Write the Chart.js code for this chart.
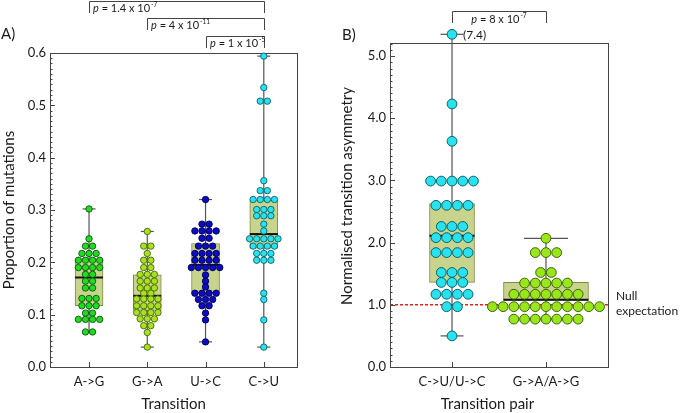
<!DOCTYPE html>
<html>
<head>
<meta charset="utf-8">
<script src="https://cdn.jsdelivr.net/npm/chart.js@4.4.1/dist/chart.umd.min.js"></script>
<style>
  html, body { margin: 0; padding: 0; background: #fff; }
  #wrap { position: relative; width: 680px; height: 413px; }
  #chartA { position: absolute; left: 0; top: 0; }
  #chartB { position: absolute; left: 330px; top: 0; }
</style>
</head>
<body>
<div id="wrap">
  <canvas id="chartA" width="330" height="413"></canvas>
  <canvas id="chartB" width="350" height="413"></canvas>
</div>
<script>
// ---- Panel A data: proportion of mutations per transition ----
const transitions = ['A->G', 'G->A', 'U->C', 'C->U'];
const agValues = [0.302, 0.245, 0.231, 0.231, 0.217, 0.217, 0.217, 0.204, 0.204, 0.204, 0.204,
  0.19, 0.19, 0.19, 0.19, 0.177, 0.177, 0.164, 0.164, 0.151, 0.151, 0.131, 0.131, 0.131,
  0.117, 0.117, 0.117, 0.103, 0.103, 0.091, 0.091, 0.091, 0.091, 0.067, 0.067];
const gaValues = [0.259, 0.231, 0.231, 0.217, 0.204, 0.204, 0.19, 0.19, 0.177, 0.177, 0.177,
  0.164, 0.164, 0.164, 0.151, 0.151, 0.151, 0.141, 0.141, 0.13, 0.13, 0.13, 0.13,
  0.117, 0.117, 0.117, 0.117, 0.104, 0.104, 0.104, 0.104, 0.092, 0.092, 0.092, 0.079, 0.079, 0.066, 0.038];
const ucValues = [0.32, 0.273, 0.273, 0.26, 0.26, 0.26, 0.26, 0.246, 0.246, 0.231, 0.231, 0.231,
  0.217, 0.217, 0.217, 0.217, 0.204, 0.204, 0.204, 0.204, 0.19, 0.19, 0.19, 0.19, 0.19,
  0.176, 0.164, 0.153, 0.141, 0.141, 0.141, 0.141, 0.129, 0.129, 0.129, 0.117, 0.117, 0.103, 0.09, 0.048];
const cuValues = [0.594, 0.534, 0.508, 0.508, 0.356, 0.337, 0.337, 0.32, 0.32, 0.32, 0.32,
  0.301, 0.301, 0.301, 0.289, 0.289, 0.289, 0.273, 0.26, 0.245, 0.245, 0.245, 0.245, 0.245,
  0.231, 0.231, 0.231, 0.231, 0.217, 0.217, 0.217, 0.204, 0.204, 0.204, 0.141, 0.129, 0.09, 0.038];
const aMin = [0.067, 0.038, 0.048, 0.038];
const aQ1 = [0.117, 0.108, 0.142, 0.227];
const aMedian = [0.171, 0.136, 0.195, 0.254];
const aQ3 = [0.206, 0.176, 0.236, 0.319];
const aMax = [0.302, 0.259, 0.32, 0.594];
const aTicks = [0, 0.1, 0.2, 0.3, 0.4, 0.5, 0.6];
const aPValues = [
  { from: 0, to: 3, mant: '1.4', exp: '-7' },
  { from: 1, to: 3, mant: '4', exp: '-11' },
  { from: 2, to: 3, mant: '1', exp: '-5' }
];

// ---- Panel B data: normalised transition asymmetry ----
const pairs = ['C->U/U->C', 'G->A/A->G'];
const cuucValues = [7.4, 4.23, 3.63, 2.99, 2.99, 2.99, 2.99, 2.99, 2.6, 2.6, 2.6, 2.6,
  2.26, 2.26, 2.26, 2.08, 2.08, 2.08, 2.08, 1.84, 1.84, 1.84, 1.84, 1.52, 1.52, 1.52,
  1.36, 1.36, 1.36, 1.17, 1.17, 1.17, 1.17, 0.97, 0.97, 0.5];
const gaagValues = [2.07, 1.84, 1.84, 1.84, 1.52, 1.52, 1.35, 1.35, 1.35, 1.35, 1.35,
  1.17, 1.17, 1.17, 1.17, 1.17, 1.17, 1.17,
  0.97, 0.97, 0.97, 0.97, 0.97, 0.97, 0.97, 0.97, 0.97, 0.97, 0.97,
  0.77, 0.77, 0.77, 0.77, 0.77, 0.77, 0.77];
const bMin = [0.5, 0.77];
const bQ1 = [1.36, 1.07];
const bMedian = [2.11, 1.08];
const bQ3 = [2.63, 1.36];
const bMax = [7.4, 2.07];
const bTicks = [0, 1, 2, 3, 4, 5];
const nullExpectation = 1.0;
const bPValue = { from: 0, to: 1, mant: '8', exp: '-7' };

// ---- styles ----
const FONT = 'Lato';
const textColor = '#1a1a1a';
const axisColor = '#444';
const whiskerColor = '#555';
const boxFill = '#c8d38c';
const boxEdge = '#7f8a46';

const bTop = 5.21;      // top of panel B frame
const bBreakAt = 5.35;  // off-scale values are drawn here, above the frame
const bScaleMax = 5.5;  // scale keeps going a little above the frame so that point fits
const shownB = v => (v > bTop ? bBreakAt : v);

// binned dot plot: equal values sit in one centred row
function swarm(values, g, step) {
  const rows = new Map();
  values.forEach(v => rows.set(v, (rows.get(v) || 0) + 1));
  const pts = [];
  rows.forEach((n, v) => {
    for (let i = 0; i < n; i++) pts.push({ x: g + (i - (n - 1) / 2) * step, y: v });
  });
  return pts;
}

function boxDatasets(groups, st, style, shown) {
  const ds = [];
  groups.forEach((vals, g) => {
    const lo = shown(st.min[g]), hi = shown(st.max[g]);
    ds.push({ type: 'line', data: [{ x: g, y: lo }, { x: g, y: hi }], borderColor: whiskerColor,
      borderWidth: 1.2, pointRadius: 0, order: 5, clip: false });
    ds.push({ type: 'bar', data: [{ x: g, y: [st.q1[g], st.q3[g]] }], backgroundColor: boxFill,
      borderColor: boxEdge, borderWidth: 1, borderSkipped: false, barThickness: style.boxWidth[g],
      grouped: false, order: 4 });
    ds.push({ type: 'scatter', data: [{ x: g, y: lo }, { x: g, y: hi }], pointStyle: 'line',
      pointRadius: style.capWidth[g] / 2, borderColor: whiskerColor, borderWidth: 1.2, order: 3, clip: false });
    ds.push({ type: 'scatter', data: [{ x: g, y: st.median[g] }], pointStyle: 'line',
      pointRadius: style.boxWidth[g] / 2, borderColor: '#111', borderWidth: 2, order: 2 });
    ds.push({ type: 'scatter', data: swarm(vals.map(shown), g, style.step), pointRadius: style.r,
      backgroundColor: style.colors[g], borderColor: style.edges[g], borderWidth: style.bw,
      order: 1, clip: false });
  });
  return ds;
}

function drawP(ctx, x, y, mant, exp, size, centred) {
  const main = ` = ${mant} x 10`;
  ctx.font = `italic ${size}px ${FONT}`;
  const wp = ctx.measureText('p').width;
  ctx.font = `${size}px ${FONT}`;
  const wm = ctx.measureText(main).width;
  ctx.font = `${size * 0.6}px ${FONT}`;
  const we = ctx.measureText(exp).width;
  if (centred) x -= (wp + wm + we + 1) / 2;
  ctx.textAlign = 'left';
  ctx.textBaseline = 'alphabetic';
  ctx.font = `italic ${size}px ${FONT}`;
  ctx.fillText('p', x, y);
  ctx.font = `${size}px ${FONT}`;
  ctx.fillText(main, x + wp, y);
  ctx.font = `${size * 0.6}px ${FONT}`;
  ctx.fillText(exp, x + wp + wm + 1, y - size * 0.48);
}

function bracket(ctx, x1, x2, y, drop) {
  ctx.beginPath();
  ctx.moveTo(x1 + 0.5, y + drop);
  ctx.lineTo(x1 + 0.5, y + 0.5);
  ctx.lineTo(x2 + 0.5, y + 0.5);
  ctx.lineTo(x2 + 0.5, y + drop);
  ctx.stroke();
}

function axesPlugin(minorStep, majorTicks, topValue) {
  return {
    id: 'axesFrame',
    beforeDatasetsDraw(chart) {
      const { ctx, chartArea: a, scales: { x, y } } = chart;
      const top = Math.round(y.getPixelForValue(topValue));
      ctx.save();
      ctx.strokeStyle = axisColor;
      ctx.lineWidth = 1;
      ctx.strokeRect(Math.round(a.left) + 0.5, top + 0.5,
        Math.round(a.right - a.left), Math.round(a.bottom) - top);
      ctx.beginPath();
      const n = Math.floor((topValue - y.min) / minorStep + 1e-6);
      for (let k = 0; k <= n; k++) {
        const py = Math.round(y.getPixelForValue(y.min + k * minorStep)) + 0.5;
        ctx.moveTo(a.left, py); ctx.lineTo(a.left + 2.5, py);
      }
      majorTicks.forEach(v => {
        const py = Math.round(y.getPixelForValue(v)) + 0.5;
        ctx.moveTo(a.left, py); ctx.lineTo(a.left + 5, py);
      });
      x.ticks.forEach(t => {
        const px = Math.round(x.getPixelForValue(t.value)) + 0.5;
        ctx.moveTo(px, a.bottom); ctx.lineTo(px, a.bottom - 5);
      });
      ctx.stroke();
      ctx.restore();
    }
  };
}

function scalesFor(cats, xMin, xMax, yMin, yMax, yTicks, yWidth, xTitle, yTitle, yTitlePad) {
  return {
    x: {
      type: 'linear', min: xMin, max: xMax, offset: false,
      grid: { display: false, drawTicks: false }, border: { display: false },
      afterBuildTicks: s => { s.ticks = cats.map((_, i) => ({ value: i })); },
      ticks: { callback: v => cats[v], color: textColor, font: { family: FONT, size: 13 },
        padding: 7, autoSkip: false, maxRotation: 0 },
      title: { display: !!xTitle, text: xTitle, color: textColor, font: { family: FONT, size: 15 },
        padding: { top: 0, bottom: 0 } },
      afterFit: s => { s.height = 46; }
    },
    y: {
      min: yMin, max: yMax,
      grid: { display: false, drawTicks: false }, border: { display: false },
      afterBuildTicks: s => { s.ticks = yTicks.map(v => ({ value: v })); },
      ticks: { callback: v => v.toFixed(1), color: textColor, font: { family: FONT, size: 13 }, padding: 4 },
      title: { display: true, text: yTitle, color: textColor, font: { family: FONT, size: 15 },
        padding: { top: yTitlePad, bottom: 0 } },
      afterFit: s => { s.width = yWidth; }
    }
  };
}

const common = {
  responsive: false, animation: false, events: [],
  plugins: { legend: { display: false }, tooltip: { enabled: false } }
};

// ---- Panel A ----
new Chart(document.getElementById('chartA'), {
  type: 'scatter',
  data: {
    datasets: boxDatasets([agValues, gaValues, ucValues, cuValues],
      { min: aMin, q1: aQ1, median: aMedian, q3: aQ3, max: aMax },
      { boxWidth: [28, 28, 28, 28], capWidth: [13, 13, 13, 13], step: 0.122, r: 3.2, bw: 0.9,
        colors: ['#1fdc1f', '#a5e31c', '#0c0cc4', '#27e3ef'],
        edges: ['#145214', '#4d6410', '#000050', '#10606a'] },
      v => v)
  },
  options: Object.assign({}, common, {
    layout: { autoPadding: false, padding: { left: 0, right: 33, top: 53, bottom: 0 } },
    scales: scalesFor(transitions, -0.67, 3.57, 0, 0.6, aTicks, 50, 'Transition', 'Proportion of mutations', 0)
  }),
  plugins: [axesPlugin(0.01, aTicks, 0.6), {
    id: 'annotA',
    afterDraw(chart) {
      const { ctx, scales: { x } } = chart;
      ctx.save();
      ctx.strokeStyle = axisColor;
      ctx.fillStyle = textColor;
      ctx.lineWidth = 1;
      const lineY = [1, 18, 36];
      aPValues.forEach((p, i) => {
        const x1 = Math.round(x.getPixelForValue(p.from));
        const x2 = Math.round(x.getPixelForValue(p.to));
        bracket(ctx, x1, x2, lineY[i], 12);
        drawP(ctx, x1 + 4, lineY[i] + 11, p.mant, p.exp, 11, false);
      });
      ctx.font = `15px ${FONT}`;
      ctx.textAlign = 'left';
      ctx.textBaseline = 'alphabetic';
      ctx.fillText('A)', 1, 39);
      ctx.restore();
    }
  }]
});

// ---- Panel B ----
new Chart(document.getElementById('chartB'), {
  type: 'scatter',
  data: {
    datasets: boxDatasets([cuucValues, gaagValues],
      { min: bMin, q1: bQ1, median: bMedian, q3: bQ3, max: bMax },
      { boxWidth: [45, 85], capWidth: [23, 44], step: 0.114, r: 4.9, bw: 1,
        colors: ['#27e3ef', '#99e619'], edges: ['#10606a', '#3f6410'] },
      shownB)
  },
  options: Object.assign({}, common, {
    layout: { autoPadding: false, padding: { left: 0, right: 72, top: 25, bottom: 0 } },
    scales: scalesFor(pairs, -0.66, 1.66, 0, bScaleMax, bTicks, 60, '', 'Normalised transition asymmetry', 8)
  }),
  plugins: [{
    id: 'nullLine',
    beforeDatasetsDraw(chart) {
      const { ctx, chartArea: a, scales: { y } } = chart;
      const py = y.getPixelForValue(nullExpectation);
      ctx.save();
      ctx.strokeStyle = '#e3221c';
      ctx.lineWidth = 1.5;
      ctx.setLineDash([3, 2]);
      ctx.beginPath();
      ctx.moveTo(a.left, py); ctx.lineTo(a.right + 2, py);
      ctx.stroke();
      ctx.restore();
    }
  }, axesPlugin(0.1, bTicks, bTop), {
    id: 'annotB',
    afterDraw(chart) {
      const { ctx, chartArea: a, scales: { x, y } } = chart;
      ctx.save();
      ctx.strokeStyle = axisColor;
      ctx.fillStyle = textColor;
      ctx.lineWidth = 1;
      const x1 = Math.round(x.getPixelForValue(bPValue.from));
      const x2 = Math.round(x.getPixelForValue(bPValue.to));
      bracket(ctx, x1, x2, 11, 12);
      drawP(ctx, (x1 + x2) / 2, 23, bPValue.mant, bPValue.exp, 11, true);
      // label for the off-scale value
      cuucValues.filter(v => v > bTop).forEach(v => {
        ctx.font = `12px ${FONT}`;
        ctx.textAlign = 'left';
        ctx.textBaseline = 'middle';
        ctx.fillText(`(${v})`, x.getPixelForValue(0) + 11, y.getPixelForValue(bBreakAt) + 1);
      });
      ctx.font = `12px ${FONT}`;
      ctx.textAlign = 'left';
      ctx.textBaseline = 'alphabetic';
      ctx.fillText('Null', a.right + 8, 300);
      ctx.fillText('expectation', a.right + 8, 315);
      ctx.font = `15px ${FONT}`;
      ctx.textAlign = 'center';
      ctx.fillText('Transition pair', 157.5, 409);
      ctx.textAlign = 'left';
      ctx.fillText('B)', 12, 40);
      ctx.restore();
    }
  }]
});
</script>
</body>
</html>
